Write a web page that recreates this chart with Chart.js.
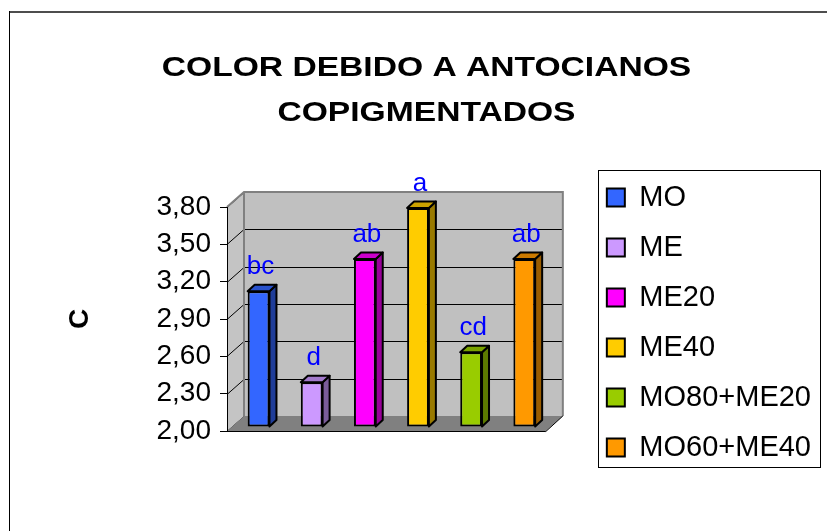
<!DOCTYPE html>
<html>
<head>
<meta charset="utf-8">
<script src="https://cdn.jsdelivr.net/npm/chart.js@4/dist/chart.umd.min.js"></script>
<style>
  html, body { margin: 0; padding: 0; background: #ffffff; }
  canvas { display: block; }
</style>
</head>
<body>
<canvas id="c" width="827" height="531"></canvas>
<script>
// ---- data ----
const TITLE_LINES = ['COLOR DEBIDO A ANTOCIANOS', 'COPIGMENTADOS'];
const Y_AXIS_TITLE = 'C';
const CATEGORIES = ['MO', 'ME', 'ME20', 'ME40', 'MO80+ME20', 'MO60+ME40'];
const VALUES = [3.09, 2.36, 3.35, 3.76, 2.60, 3.35];
const SIG_LETTERS = ['bc', 'd', 'ab', 'a', 'cd', 'ab'];
const Y_TICKS = [2.00, 2.30, 2.60, 2.90, 3.20, 3.50, 3.80];
const Y_TICK_LABELS = ['2,00', '2,30', '2,60', '2,90', '3,20', '3,50', '3,80'];

// ---- styles ----
const FRONT_COLORS = ['#3366FF', '#CC99FF', '#FF00FF', '#FFCC00', '#99CC00', '#FF9900'];
const SIDE_COLORS  = ['#1F3D99', '#7A5C99', '#990099', '#997A00', '#5C7A00', '#995C00'];
const TOP_COLORS   = ['#2952CC', '#A37ACC', '#CC00CC', '#CCA300', '#7AA300', '#CC7A00'];
const FONT = "'Liberation Sans', Arial, Helvetica, sans-serif";
const WALL_DX = 17, WALL_DY = 15;      // depth of the 3D walls
const BAR_DX = 7, BAR_DY = 6.5;        // depth of each 3D bar
const BAR_SHIFT_X = 5, BAR_SHIFT_Y = -4; // bars sit a bit behind the front plane

const bgAndWalls = {
  id: 'bgAndWalls',
  beforeDraw(chart) {
    const c = chart.ctx;
    const a = chart.chartArea;
    const y = chart.scales.y;
    c.save();
    c.fillStyle = '#ffffff';
    c.fillRect(0, 0, chart.width, chart.height);
    // outer frame (top and left visible)
    c.fillStyle = '#4d4d4d';
    c.fillRect(9, 11, chart.width - 9, 2);
    c.fillStyle = '#000000';
    c.fillRect(9, 11, 1, chart.height - 11);

    const L = a.left, R = a.right, T = a.top, B = a.bottom;
    // back wall
    c.fillStyle = '#C0C0C0';
    c.fillRect(L + WALL_DX, T - WALL_DY, R - L, B - T);
    // side wall
    c.beginPath();
    c.moveTo(L, T); c.lineTo(L + WALL_DX, T - WALL_DY);
    c.lineTo(L + WALL_DX, B - WALL_DY); c.lineTo(L, B); c.closePath();
    c.fillStyle = '#C4C4C4';
    c.fill();
    // gridlines on back wall and side wall
    c.strokeStyle = '#000000';
    c.lineWidth = 1;
    Y_TICKS.forEach(v => {
      const py = Math.round(y.getPixelForValue(v)) + 0.5;
      c.beginPath();
      c.moveTo(L, py); c.lineTo(L + WALL_DX, py - WALL_DY);
      if (v > Y_TICKS[0] && v < Y_TICKS[Y_TICKS.length - 1]) {
        c.lineTo(R + WALL_DX, py - WALL_DY);
      }
      c.stroke();
    });
    // wall outlines
    c.strokeStyle = '#808080';
    c.lineWidth = 2;
    c.beginPath();
    c.moveTo(L, T); c.lineTo(L + WALL_DX, T - WALL_DY);
    c.lineTo(R + WALL_DX, T - WALL_DY); c.lineTo(R + WALL_DX, B - WALL_DY);
    c.moveTo(L + WALL_DX, T - WALL_DY); c.lineTo(L + WALL_DX, B - WALL_DY);
    c.stroke();
    // floor
    c.beginPath();
    c.moveTo(L, B); c.lineTo(L + WALL_DX, B - WALL_DY);
    c.lineTo(R + WALL_DX, B - WALL_DY); c.lineTo(R, B); c.closePath();
    c.fillStyle = '#808080';
    c.fill();
    c.strokeStyle = '#000000';
    c.lineWidth = 1;
    c.beginPath();
    c.moveTo(L, B + 0.5); c.lineTo(R, B + 0.5); c.lineTo(R + WALL_DX, B - WALL_DY);
    c.stroke();
    c.restore();
  }
};

const bars3d = {
  id: 'bars3d',
  beforeDatasetsDraw(chart) {
    chart.ctx.save();
    chart.ctx.translate(BAR_SHIFT_X, BAR_SHIFT_Y);
  },
  afterDatasetsDraw(chart) {
    const c = chart.ctx;
    const meta = chart.getDatasetMeta(0);
    c.lineWidth = 2;
    c.lineJoin = 'round';
    c.strokeStyle = '#000000';
    meta.data.forEach((bar, i) => {
      const p = bar.getProps(['x', 'y', 'base', 'width'], true);
      const l = p.x - p.width / 2, r = p.x + p.width / 2, t = p.y, b = p.base;
      // side face
      c.beginPath();
      c.moveTo(r, t); c.lineTo(r + BAR_DX, t - BAR_DY);
      c.lineTo(r + BAR_DX, b - BAR_DY); c.lineTo(r, b); c.closePath();
      c.fillStyle = SIDE_COLORS[i]; c.fill(); c.stroke();
      // top face
      c.beginPath();
      c.moveTo(l, t); c.lineTo(l + BAR_DX, t - BAR_DY);
      c.lineTo(r + BAR_DX, t - BAR_DY); c.lineTo(r, t); c.closePath();
      c.fillStyle = TOP_COLORS[i]; c.fill(); c.stroke();
      // significance letter
      c.fillStyle = '#0000FF';
      c.font = '26px ' + FONT;
      c.textAlign = 'center';
      c.textBaseline = 'alphabetic';
      c.fillText(SIG_LETTERS[i], p.x + 2, t - 17);
    });
    c.restore();
  }
};

const legendFrame = {
  id: 'legendFrame',
  afterDraw(chart) {
    const lg = chart.legend;
    if (!lg || !lg.legendHitBoxes || !lg.legendHitBoxes.length) return;
    const hb = lg.legendHitBoxes;
    const first = hb[0], last = hb[hb.length - 1];
    const x0 = Math.round(first.left - 9) + 0.5;
    const y0 = Math.round(first.top - 13) + 0.5;
    const x1 = Math.round(lg.left + lg.width - 1) + 0.5;
    const y1 = Math.round(last.top + last.height + 5) + 0.5;
    const c = chart.ctx;
    c.save();
    c.strokeStyle = '#000000';
    c.lineWidth = 1;
    c.strokeRect(x0, y0, x1 - x0, y1 - y0);
    c.restore();
  }
};

const titleStretch = {
  id: 'titleStretch',
  beforeDraw(chart) {
    const tb = chart.titleBlock;
    if (tb && !tb._stretched) {
      const orig = tb.draw.bind(tb);
      tb.draw = function () {
        const c = chart.ctx;
        const cx = (tb.left + tb.right) / 2;
        c.save();
        c.translate(cx, 0); c.scale(1.2, 1); c.translate(-cx, 0);
        orig();
        c.restore();
      };
      tb._stretched = true;
    }
  }
};

const ctx = document.getElementById('c').getContext('2d');
new Chart(ctx, {
  type: 'bar',
  data: {
    labels: CATEGORIES,
    datasets: [{
      label: Y_AXIS_TITLE,
      data: VALUES,
      base: Y_TICKS[0],
      backgroundColor: FRONT_COLORS,
      borderColor: '#000000',
      borderWidth: 2,
      borderSkipped: false,
      barPercentage: 0.41,
      categoryPercentage: 1.0
    }]
  },
  options: {
    responsive: false,
    animation: false,
    devicePixelRatio: 1,
    layout: { padding: { left: 32, right: 6, top: 0, bottom: 0 } },
    plugins: {
      title: {
        display: true,
        text: TITLE_LINES,
        color: '#000000',
        font: { family: FONT, size: 28, weight: 'bold', lineHeight: '45px' },
        padding: { top: 45.5, bottom: 10 }
      },
      legend: {
        display: true,
        position: 'right',
        align: 'start',
        maxWidth: 260,
        onClick: () => {},
        title: { display: true, text: '', font: { size: 2, lineHeight: '2px' }, padding: { top: 160, bottom: 0 } },
        labels: {
          font: { family: FONT, size: 29 },
          color: '#000000',
          boxWidth: 18,
          boxHeight: 18,
          padding: 21,
          generateLabels: () => CATEGORIES.map((name, i) => ({
            text: name, fillStyle: FRONT_COLORS[i], strokeStyle: '#000000',
            lineWidth: 2, hidden: false, index: i, fontColor: '#000000'
          }))
        }
      },
      tooltip: { enabled: false }
    },
    scales: {
      x: {
        position: 'bottom',
        grid: { display: false },
        border: { display: false },
        ticks: { display: false },
        afterFit: s => { s.height = 100; }
      },
      xTop: {
        type: 'category',
        position: 'top',
        grid: { display: false },
        border: { display: false },
        ticks: { display: false },
        afterFit: s => { s.height = 61.5; }
      },
      y: {
        type: 'linear',
        position: 'left',
        min: Y_TICKS[0],
        max: Y_TICKS[Y_TICKS.length - 1],
        afterBuildTicks: s => { s.ticks = Y_TICKS.map(v => ({ value: v })); },
        afterFit: s => { s.width = 227 - 32; },
        ticks: {
          callback: v => Y_TICK_LABELS[Y_TICKS.indexOf(v)],
          font: { family: FONT, size: 28 },
          color: '#000000',
          padding: 9
        },
        grid: { drawOnChartArea: false, drawTicks: true, tickLength: 7, tickColor: '#000000', lineWidth: 1 },
        border: { display: true, color: '#000000', width: 1 },
        title: {
          display: true,
          text: Y_AXIS_TITLE,
          color: '#000000',
          font: { family: FONT, size: 28, weight: 'bold' },
          padding: { top: 31, bottom: 0 }
        }
      },
      yR: {
        type: 'linear',
        position: 'right',
        grid: { display: false },
        border: { display: false },
        ticks: { display: false },
        afterFit: s => { s.width = 40; }
      }
    }
  },
  plugins: [bgAndWalls, titleStretch, bars3d, legendFrame]
});
</script>
</body>
</html>
